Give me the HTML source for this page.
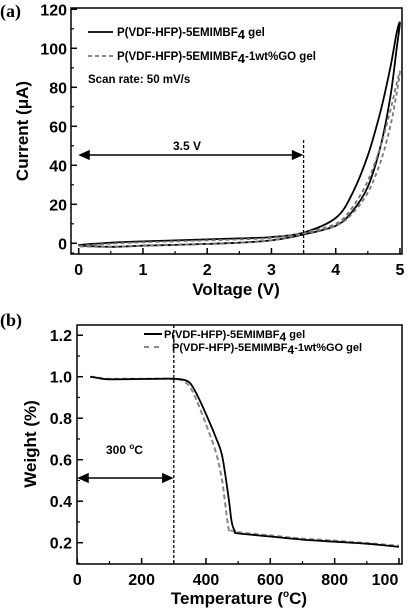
<!DOCTYPE html>
<html><head><meta charset="utf-8"><style>
html,body{margin:0;padding:0;background:#fff;}
svg{display:block;font-family:"Liberation Sans",Arial,sans-serif;font-weight:bold;}
</style></head><body>
<svg id="fig" width="408" height="616" viewBox="0 0 408 616" xmlns="http://www.w3.org/2000/svg">
<text x="0" y="17" font-family="Liberation Serif,serif" font-size="18">(a)</text>
<text x="0" y="326" font-family="Liberation Serif,serif" font-size="18">(b)</text>
<g id="pa"></g>
<g id="pb"></g>
</svg>
<script>
// Panel (a) data
const cvV = [0,0.5,1,1.5,2,2.5,3,3.5,4,4.25,4.5,4.7,4.85,4.95,5.0];
const cvSolidUp = [-1,0.3,1,1.5,2,2.5,3.2,5.5,13,25,45,68,90,108,113];
const cvSolidDown = [-2.5,-1.8,-1.2,-0.8,-0.3,0.3,1.5,4.5,9,16,29,50,75,100,113];
const cvGOUp = [-1.5,-0.2,0.5,1,1.5,2,2.8,5.5,10,18,32,50,68,82,88];
const cvGODown = [-2.5,-1.8,-1.3,-0.8,-0.3,0.3,1.5,4.8,9,15,26,42,60,77,88];
const cvXTicks = [0,1,2,3,4,5];
const cvYTicks = [0,20,40,60,80,100,120];
// Panel (b) data
const tgaT = [40,60,90,150,250,300,330,350,370,400,430,450,470,480,490,500,600,700,800,900,1000];
const tgaSolid = [1.0,0.995,0.988,0.988,0.99,0.99,0.985,0.97,0.92,0.82,0.71,0.62,0.42,0.3,0.255,0.245,0.23,0.215,0.205,0.195,0.18];
const tgaGO = [1.0,0.997,0.99,0.99,0.99,0.99,0.98,0.95,0.89,0.77,0.64,0.5,0.27,0.258,0.255,0.25,0.235,0.22,0.21,0.198,0.185];
const tgaXTicks = [0,200,400,600,800,1000];
const tgaXLabels = ["0","200","400","600","800","100"];
const tgaYTicks = [0.2,0.4,0.6,0.8,1.0,1.2];

const NS="http://www.w3.org/2000/svg";
function mk(parent,tag,attrs,text){const e=document.createElementNS(NS,tag);for(const k in attrs)e.setAttribute(k,attrs[k]);if(text!==undefined)e.textContent=text;parent.appendChild(e);return e;}
function smooth(pts,closed){
  const n=pts.length;let d='M'+pts[0][0].toFixed(1)+','+pts[0][1].toFixed(1);
  const g=i=>closed?pts[(i+n)%n]:pts[Math.max(0,Math.min(n-1,i))];
  const last=closed?n:n-1;
  for(let i=0;i<last;i++){const p0=g(i-1),p1=g(i),p2=g(i+1),p3=g(i+2);
    const c1=[p1[0]+(p2[0]-p0[0])/6,p1[1]+(p2[1]-p0[1])/6],c2=[p2[0]-(p3[0]-p1[0])/6,p2[1]-(p3[1]-p1[1])/6];
    d+='C'+c1[0].toFixed(1)+','+c1[1].toFixed(1)+' '+c2[0].toFixed(1)+','+c2[1].toFixed(1)+' '+p2[0].toFixed(1)+','+p2[1].toFixed(1);}
  return d+(closed?'Z':'');
}

// ---- Panel a ----
const pa=document.getElementById('pa');
const ax=v=>78.7+v*64.25, ay=i=>243.3-i*1.95;
let f=mk(pa,'rect',{x:71,y:8,width:331,height:246,fill:'none',stroke:'#000','stroke-width':1.5});

cvXTicks.forEach((t,k)=>{
  let l=mk(pa,'line',{x1:ax(t),x2:ax(t),y1:254,y2:248,stroke:'#000','stroke-width':1.5});
  
  if(k<cvXTicks.length-1){let m=mk(pa,'line',{x1:ax(t+0.5),x2:ax(t+0.5),y1:254,y2:251,stroke:'#000','stroke-width':1.2});}
  let tx=mk(pa,'text',{x:ax(t),y:275,'text-anchor':'middle','font-size':16},String(t));
  
});
cvYTicks.forEach((t,k)=>{
  let l=mk(pa,'line',{x1:71,x2:77,y1:ay(t),y2:ay(t),stroke:'#000','stroke-width':1.5});
  
  if(k<cvYTicks.length-1){let m=mk(pa,'line',{x1:71,x2:74,y1:ay(t+10),y2:ay(t+10),stroke:'#000','stroke-width':1.2});}
  let tx=mk(pa,'text',{x:67,y:ay(t)+6,'text-anchor':'end','font-size':16},String(t));
  
});
let m0=mk(pa,'line',{x1:71,x2:74,y1:ay(-5),y2:ay(-5),stroke:'#000','stroke-width':1.2});
let xt=mk(pa,'text',{x:236,y:295,'text-anchor':'middle','font-size':17},'Voltage (V)');

let yt=mk(pa,'text',{x:0,y:0,'text-anchor':'middle','font-size':17,transform:'translate(28,131) rotate(-90)'},'Current (μA)');

function loop(up,down){let pts=cvV.map((v,i)=>[ax(v),ay(up[i])]);for(let i=cvV.length-2;i>=1;i--)pts.push([ax(cvV[i]),ay(down[i])]);return smooth(pts,true);}
let s1=mk(pa,'path',{d:loop(cvSolidUp,cvSolidDown),fill:'none',stroke:'#000','stroke-width':1.8});

let s2=mk(pa,'path',{d:loop(cvGOUp,cvGODown),fill:'none',stroke:'#777','stroke-width':1.8,'stroke-dasharray':'4,3'});

let vl=mk(pa,'line',{x1:ax(3.5),x2:ax(3.5),y1:140,y2:254,stroke:'#000','stroke-width':1.3,'stroke-dasharray':'3,2'});

let ar=mk(pa,'path',{d:`M80,155L${ax(3.5)-2},155M80,155l9,-4v8zM${ax(3.5)-2},155l-9,-4v8z`,stroke:'#000','stroke-width':1.5,fill:'#000'});

let at=mk(pa,'text',{x:187,y:150,'text-anchor':'middle','font-size':12},'3.5 V');

let l1=mk(pa,'line',{x1:88,x2:113,y1:32,y2:32,stroke:'#000','stroke-width':1.8});
let lt1=mk(pa,'text',{x:117,y:36,'font-size':11.5});lt1.innerHTML='P(VDF-HFP)-5EMIMBF<tspan font-size="13" dy="3">4</tspan><tspan dy="-3"> gel</tspan>';
let l2=mk(pa,'line',{x1:88,x2:113,y1:56,y2:56,stroke:'#777','stroke-width':1.8,'stroke-dasharray':'4,3'});
let lt2=mk(pa,'text',{x:117,y:60,'font-size':11.5});lt2.innerHTML='P(VDF-HFP)-5EMIMBF<tspan font-size="13" dy="3">4</tspan><tspan dy="-3">-1wt%GO gel</tspan>';
let sr=mk(pa,'text',{x:88,y:83,'font-size':11.5},'Scan rate: 50 mV/s');

// ---- Panel b ----
const pb=document.getElementById('pb');
const bx=t=>77.3+t*0.3217, by=w=>542.7-(w-0.2)*207.5;
let fb=mk(pb,'rect',{x:77,y:325,width:325,height:239,fill:'none',stroke:'#000','stroke-width':1.5});

tgaXTicks.forEach((t,k)=>{
  let l=mk(pb,'line',{x1:bx(t),x2:bx(t),y1:564,y2:558,stroke:'#000','stroke-width':1.5});
  
  if(k<tgaXTicks.length-1){let m=mk(pb,'line',{x1:bx(t+100),x2:bx(t+100),y1:564,y2:561,stroke:'#000','stroke-width':1.2});}
  let tx=mk(pb,'text',{x:k==tgaXTicks.length-1?bx(t)-14:bx(t),y:585,'text-anchor':'middle','font-size':16},tgaXLabels[k]);
  
});
tgaYTicks.forEach((t,k)=>{
  let l=mk(pb,'line',{x1:77,x2:83,y1:by(t),y2:by(t),stroke:'#000','stroke-width':1.5});
  
  let m=mk(pb,'line',{x1:77,x2:80,y1:by(t-0.1),y2:by(t-0.1),stroke:'#000','stroke-width':1.2});
  let tx=mk(pb,'text',{x:72,y:by(t)+6,'text-anchor':'end','font-size':16},t.toFixed(1));
  
});
let xtb=mk(pb,'text',{x:239,y:604,'text-anchor':'middle','font-size':17});xtb.innerHTML='Temperature (<tspan font-size="10" dy="-7">o</tspan><tspan dy="7">C)</tspan>';

let ytb=mk(pb,'text',{x:0,y:0,'text-anchor':'middle','font-size':17,transform:'translate(36,444) rotate(-90)'},'Weight (%)');

function line(ys){return smooth(tgaT.map((t,i)=>[bx(t),by(ys[i])]),false);}
let b2=mk(pb,'path',{d:line(tgaGO),fill:'none',stroke:'#888','stroke-width':2,'stroke-dasharray':'5,3'});

let b1=mk(pb,'path',{d:line(tgaSolid),fill:'none',stroke:'#000','stroke-width':1.8});

let vb=mk(pb,'line',{x1:bx(300),x2:bx(300),y1:325,y2:564,stroke:'#000','stroke-width':1.3,'stroke-dasharray':'3,2'});

let arb=mk(pb,'path',{d:`M79,478L${bx(300)-2},478M79,478l9,-4v8zM${bx(300)-2},478l-9,-4v8z`,stroke:'#000','stroke-width':1.5,fill:'#000'});

let atb=mk(pb,'text',{x:106,y:454,'font-size':12});atb.innerHTML='300 <tspan font-size="8" dy="-5">o</tspan><tspan dy="5">C</tspan>';

let lb1=mk(pb,'line',{x1:144,x2:162,y1:334,y2:334,stroke:'#000','stroke-width':2});
let ltb1=mk(pb,'text',{x:164,y:338,'font-size':11});ltb1.innerHTML='P(VDF-HFP)-5EMIMBF<tspan font-size="12" dy="3">4</tspan><tspan dy="-3"> gel</tspan>';
let lb2=mk(pb,'line',{x1:144,x2:162,y1:347,y2:347,stroke:'#888','stroke-width':2,'stroke-dasharray':'5,5'});
let ltb2=mk(pb,'text',{x:172,y:351,'font-size':11});ltb2.innerHTML='P(VDF-HFP)-5EMIMBF<tspan font-size="12" dy="3">4</tspan><tspan dy="-3">-1wt%GO gel</tspan>';
</script>
</body></html>
